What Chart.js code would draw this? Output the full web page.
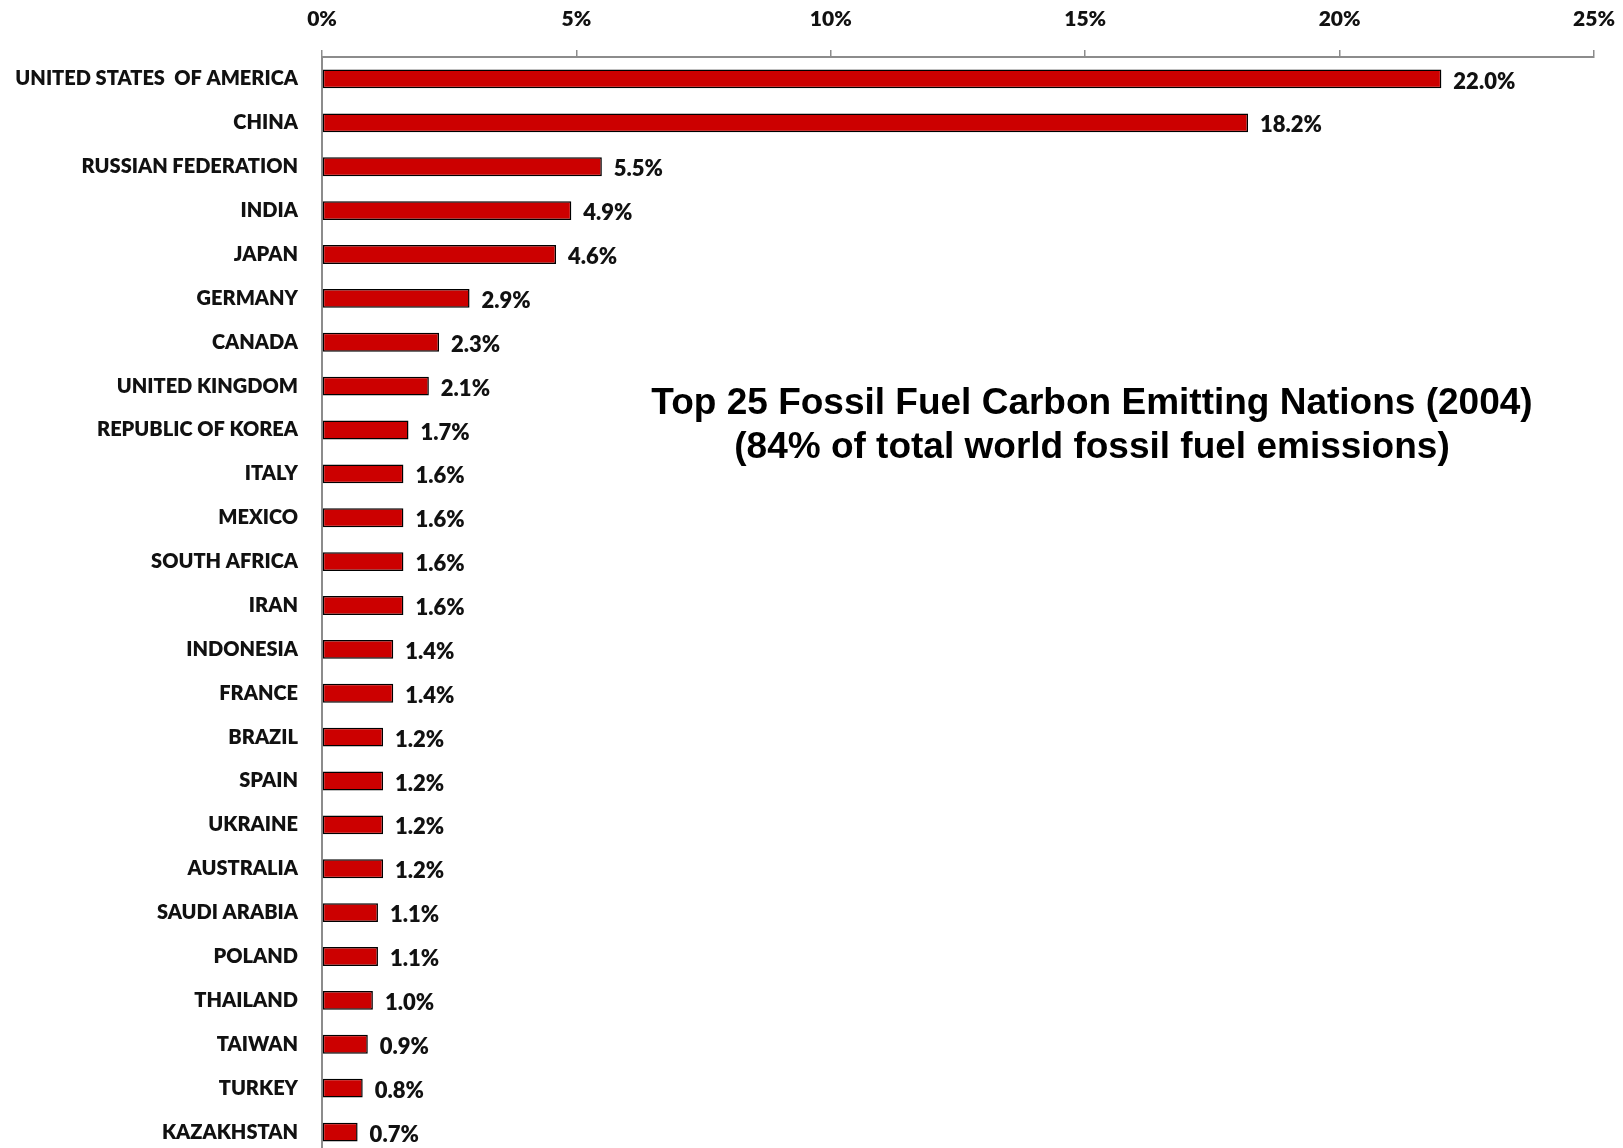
<!DOCTYPE html>
<html>
<head>
<meta charset="utf-8">
<title>Top 25 Fossil Fuel Carbon Emitting Nations (2004)</title>
<script src="https://cdn.jsdelivr.net/npm/chart.js@4"></script>
<style>
	html, body { margin: 0; padding: 0; background: #fff; overflow: hidden; }
	.wrap { position: relative; width: 1623px; height: 1166px; }
	.title {
		position: absolute; left: 592px; top: 380px; width: 1000px;
		text-align: center; font: bold 37px "Liberation Sans", Arial, sans-serif;
		line-height: 44px; color: #000;
	}
</style>
</head>
<body>
<div class="wrap">
	<canvas id="chart" width="1623" height="1166"></canvas>
	<div class="title">Top 25 Fossil Fuel Carbon Emitting Nations (2004)<br>(84% of total world fossil fuel emissions)</div>
</div>
<script>
const nations = [
	'UNITED STATES  OF AMERICA', 'CHINA', 'RUSSIAN FEDERATION', 'INDIA', 'JAPAN',
	'GERMANY', 'CANADA', 'UNITED KINGDOM', 'REPUBLIC OF KOREA', 'ITALY',
	'MEXICO', 'SOUTH AFRICA', 'IRAN', 'INDONESIA', 'FRANCE',
	'BRAZIL', 'SPAIN', 'UKRAINE', 'AUSTRALIA', 'SAUDI ARABIA',
	'POLAND', 'THAILAND', 'TAIWAN', 'TURKEY', 'KAZAKHSTAN'
];

// share of world fossil fuel CO2 emissions, %
const shares = [
	22.0, 18.2, 5.5, 4.9, 4.6,
	2.9, 2.3, 2.1, 1.7, 1.6,
	1.6, 1.6, 1.6, 1.4, 1.4,
	1.2, 1.2, 1.2, 1.2, 1.1,
	1.1, 1.0, 0.9, 0.8, 0.7
];

const axisTicks = [0, 5, 10, 15, 20, 25];

const fontFamily = 'Lato, "Open Sans", sans-serif';

// percentage text to the right of each bar
const valueLabels = {
	id: 'valueLabels',
	afterDatasetsDraw(chart) {
		const ctx = chart.ctx;
		const meta = chart.getDatasetMeta(0);
		ctx.save();
		ctx.font = '800 22px ' + fontFamily;
		ctx.fillStyle = '#111';
		ctx.textAlign = 'left';
		ctx.textBaseline = 'middle';
		meta.data.forEach((bar, i) => {
			ctx.fillText(shares[i].toFixed(1) + '%', bar.x + 12, bar.y + 2.5);
		});
		ctx.restore();
	}
};

const ctx = document.getElementById('chart').getContext('2d');

new Chart(ctx, {
	type: 'bar',
	data: {
		labels: nations,
		datasets: [{
			data: shares,
			backgroundColor: '#CC0000',
			borderColor: '#000',
			borderWidth: 1.5,
			borderSkipped: false,
			barPercentage: 0.43,
			categoryPercentage: 1
		}]
	},
	options: {
		indexAxis: 'y',
		responsive: false,
		animation: false,
		layout: { padding: { left: 0, right: 29, top: 0, bottom: 0 } },
		plugins: {
			legend: { display: false },
			tooltip: { enabled: false }
		},
		scales: {
			x: {
				position: 'top',
				min: 0,
				max: 25,
				afterBuildTicks(scale) {
					scale.ticks = axisTicks.map(v => ({ value: v }));
				},
				afterFit(scale) {
					scale.height = 57;
					// end labels may overhang; the layout padding covers them
					scale.paddingLeft = 0;
					scale.paddingRight = 0;
				},
				grid: {
					drawOnChartArea: false,
					drawTicks: true,
					tickLength: 7,
					color: '#8c8c8c',
					lineWidth: 1.5
				},
				border: { display: true, color: '#8c8c8c', width: 2 },
				ticks: {
					padding: 18,
					color: '#111',
					font: { family: fontFamily, size: 21, weight: '800' },
					callback: v => v + '%'
				}
			},
			y: {
				afterFit(scale) { scale.width = 322; },
				// invisible tick marks keep the labels clear of the axis line
				grid: {
					drawOnChartArea: false,
					drawTicks: true,
					tickLength: 24,
					tickColor: 'rgba(0,0,0,0)'
				},
				border: { display: true, color: '#8c8c8c', width: 2 },
				ticks: {
					padding: 0,
					color: '#111',
					font: { family: fontFamily, size: 20, weight: '800' },
					autoSkip: false
				}
			}
		}
	},
	plugins: [valueLabels]
});
</script>
</body>
</html>
